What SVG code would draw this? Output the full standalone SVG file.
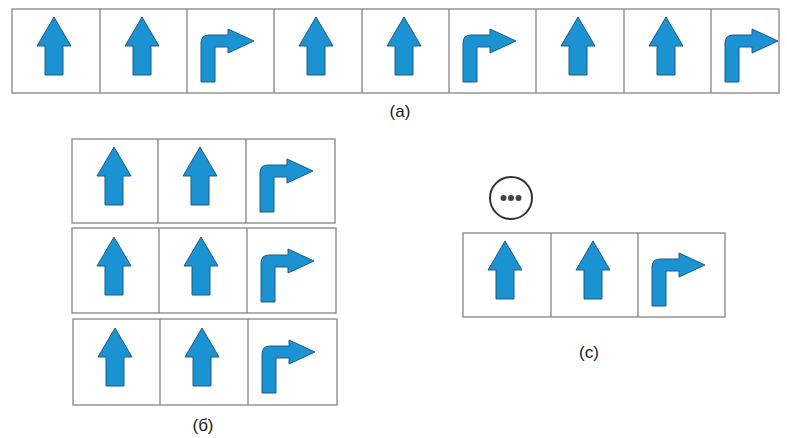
<svg xmlns="http://www.w3.org/2000/svg" xmlns:xlink="http://www.w3.org/1999/xlink" width="787" height="438" viewBox="0 0 787 438">
  <style>
    .frame { fill: #ffffff; stroke: #8e8e8e; stroke-width: 1.4; }
    .div { stroke: #8e8e8e; stroke-width: 1.4; }
    .arrow { fill: #1b93d3; stroke: #1f5c82; stroke-width: 1; stroke-linejoin: round; }
    .label { font-family: "Liberation Sans", Arial, sans-serif; font-size: 17px; fill: #1a1a1a; text-anchor: middle; }
  </style>
  <defs>
    <!-- straight-ahead arrow, drawn relative to the cell's top-left corner -->
    <path id="up" class="arrow" d="M42,8 L59,37 L51,37 L51,66 L33,66 L33,37 L25,37 Z"/>
    <!-- right-turn arrow, drawn relative to the cell's top-left corner -->
    <path id="turn" class="arrow" d="M14,73 L14,34 Q14,26 22,26 L41,26 L41,20 L67,32 L41,44 L41,38 L28,38 L28,73 Z"/>
  </defs>
  <rect width="787" height="438" fill="#ffffff"/>

  <!-- (a): single long strip -->
  <g id="strip-a">
    <rect class="frame" x="12" y="9" width="767" height="84"/>
    <g class="div">
      <line x1="100" y1="9" x2="100" y2="93"/>
      <line x1="187" y1="9" x2="187" y2="93"/>
      <line x1="274" y1="9" x2="274" y2="93"/>
      <line x1="362" y1="9" x2="362" y2="93"/>
      <line x1="449" y1="9" x2="449" y2="93"/>
      <line x1="536" y1="9" x2="536" y2="93"/>
      <line x1="624" y1="9" x2="624" y2="93"/>
      <line x1="711" y1="9" x2="711" y2="93"/>
    </g>
    <g id="a1"><use xlink:href="#up" x="12" y="9"/></g>
    <g id="a2"><use xlink:href="#up" x="100" y="9"/></g>
    <g id="a3"><use xlink:href="#turn" x="187" y="9"/></g>
    <g id="a4"><use xlink:href="#up" x="274" y="9"/></g>
    <g id="a5"><use xlink:href="#up" x="362" y="9"/></g>
    <g id="a6"><use xlink:href="#turn" x="449" y="9"/></g>
    <g id="a7"><use xlink:href="#up" x="536" y="9"/></g>
    <g id="a8"><use xlink:href="#up" x="624" y="9"/></g>
    <g id="a9"><use xlink:href="#turn" x="711" y="9"/></g>
    <text class="label" x="400" y="117">(a)</text>
  </g>

  <!-- (б): three stacked rows -->
  <g id="row-b1">
    <rect class="frame" x="72" y="139" width="263" height="84"/>
    <line class="div" x1="158" y1="139" x2="158" y2="223"/>
    <line class="div" x1="246" y1="139" x2="246" y2="223"/>
    <use xlink:href="#up" x="72" y="139"/>
    <use xlink:href="#up" x="158" y="139"/>
    <use xlink:href="#turn" x="246" y="139"/>
  </g>
  <g id="row-b2">
    <rect class="frame" x="72" y="228" width="264" height="85"/>
    <line class="div" x1="159" y1="228" x2="159" y2="313"/>
    <line class="div" x1="247" y1="228" x2="247" y2="313"/>
    <use xlink:href="#up" x="72" y="229"/>
    <use xlink:href="#up" x="159" y="229"/>
    <use xlink:href="#turn" x="247" y="229"/>
  </g>
  <g id="row-b3">
    <rect class="frame" x="73" y="319" width="264" height="86"/>
    <line class="div" x1="160" y1="319" x2="160" y2="405"/>
    <line class="div" x1="248" y1="319" x2="248" y2="405"/>
    <use xlink:href="#up" x="73" y="320"/>
    <use xlink:href="#up" x="160" y="320"/>
    <use xlink:href="#turn" x="248" y="320"/>
  </g>
  <text class="label" x="203" y="431">(б)</text>

  <!-- (c): one row with a "more" marker above -->
  <g id="more">
    <circle cx="511" cy="198" r="21" fill="#ffffff" stroke="#333" stroke-width="2"/>
    <circle cx="503.5" cy="198" r="3" fill="#444"/>
    <circle cx="511" cy="198" r="3" fill="#444"/>
    <circle cx="518.5" cy="198" r="3" fill="#444"/>
  </g>
  <g id="row-c">
    <rect class="frame" x="463" y="233" width="262" height="84"/>
    <line class="div" x1="551" y1="233" x2="551" y2="317"/>
    <line class="div" x1="638" y1="233" x2="638" y2="317"/>
    <use xlink:href="#up" x="463" y="233"/>
    <use xlink:href="#up" x="551" y="233"/>
    <use xlink:href="#turn" x="638" y="233"/>
  </g>
  <text class="label" x="589" y="358">(c)</text>
</svg>
